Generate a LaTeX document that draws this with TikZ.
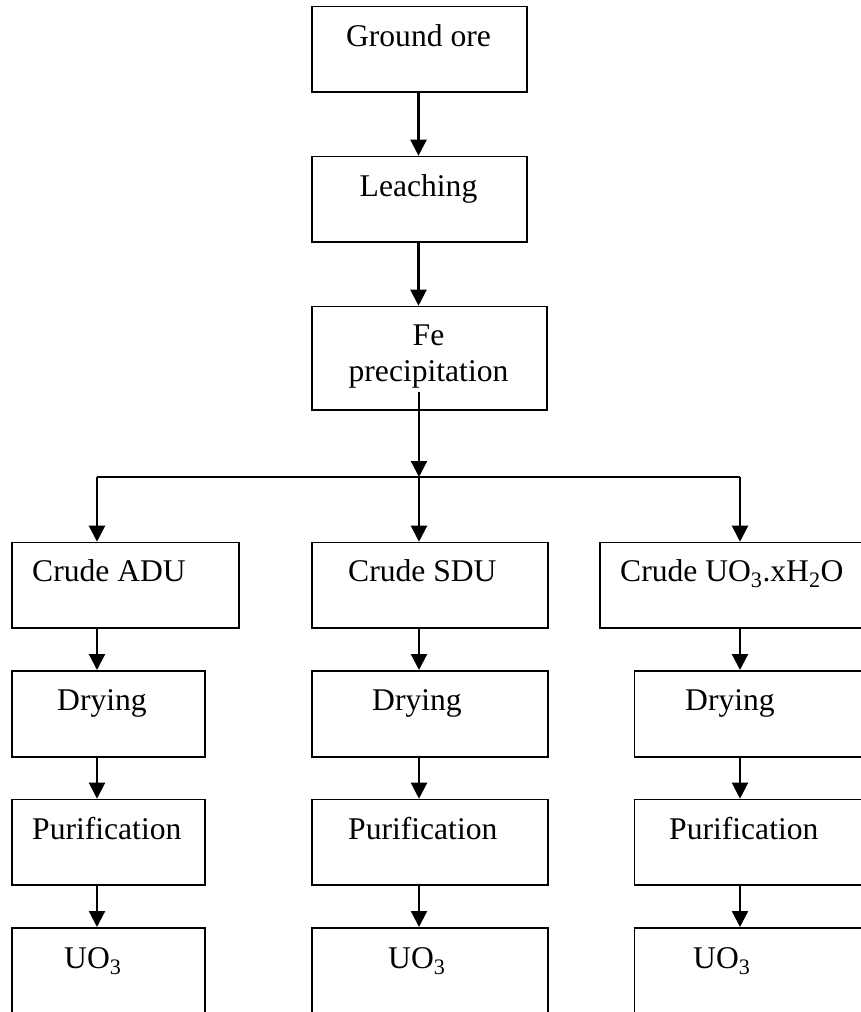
\documentclass[tikz,border=0pt]{standalone}
\usepackage{fontspec}
\setmainfont{Liberation Serif}
\usetikzlibrary{arrows.meta}
\begin{document}
\begin{tikzpicture}[x=1pt,y=-1pt,
  box/.style={draw, line width=1.6pt, inner sep=0pt, anchor=north west},
  lbl/.style={anchor=base west, inner sep=0pt, font=\fontsize{31.6}{36.7}\selectfont},
  clbl/.style={anchor=base, inner sep=0pt, font=\fontsize{31.6}{36.7}\selectfont},
  arr/.style={line width=2.2pt, -{Triangle[length=16pt,width=16pt]}},
  ln/.style={line width=1.7pt}]
\useasboundingbox (0,0) rectangle (861,1012);
\clip (0,0) rectangle (861,1012);
% top column
\node[box, minimum width=215pt, minimum height=85.6pt] (g) at (311,5.7) {};
\node[box, minimum width=215pt, minimum height=85.6pt] (l) at (311,155.7) {};
\node[box, minimum width=235pt, minimum height=103.6pt] (f) at (311,305.7) {};
\node[clbl] (tg) at (418.5,46.7) {Ground ore};
\node[clbl] (tl) at (418.5,196.7) {Leaching};
\node[clbl] (tf1) at (428.5,345) {Fe};
\node[clbl] (tf2) at (428.5,381.7) {precipitation};
% column A
\node[box, minimum width=227pt, minimum height=85.3pt] (crA) at (11,541.7) {};
\node[box, minimum width=193pt, minimum height=86pt] (dA) at (11,670) {};
\node[box, minimum width=193pt, minimum height=85.3pt] (pA) at (11,798.7) {};
\node[box, minimum width=193pt, minimum height=110pt] (uA) at (11,927) {};
% column B
\node[box, minimum width=236pt, minimum height=85.3pt] (crB) at (311,541.7) {};
\node[box, minimum width=236pt, minimum height=86pt] (dB) at (311,670) {};
\node[box, minimum width=236pt, minimum height=85.3pt] (pB) at (311,798.7) {};
\node[box, minimum width=236pt, minimum height=110pt] (uB) at (311,927) {};
% column C
\node[box, minimum width=280pt, minimum height=85.3pt] (crC) at (599,541.7) {};
\node[box, minimum width=250pt, minimum height=86pt] (dC) at (633.5,670) {};
\node[box, minimum width=250pt, minimum height=85.3pt] (pC) at (633.5,798.7) {};
\node[box, minimum width=250pt, minimum height=110pt] (uC) at (633.5,927) {};
% labels
\node[lbl] (tcrA) at (32,581.7) {Crude ADU};
\node[lbl] (tdA) at (57,710) {Drying};
\node[lbl] (tpA) at (32,839) {Purification};
\node[lbl] (tuA) at (64,968) {UO\textsubscript{3}};
\node[lbl] (tcrB) at (348,581.7) {Crude SDU};
\node[lbl] (tdB) at (372,710) {Drying};
\node[lbl] (tpB) at (348,839) {Purification};
\node[lbl] (tuB) at (388,968) {UO\textsubscript{3}};
\node[lbl] (tcrC) at (620,581.7) {Crude UO\textsubscript{3}.xH\textsubscript{2}O};
\node[lbl] (tdC) at (685,710) {Drying};
\node[lbl] (tpC) at (669,839) {Purification};
\node[lbl] (tuC) at (693,968) {UO\textsubscript{3}};
% coordinates
\coordinate (xT) at (418.5,0);
\coordinate (xA) at (97,0);
\coordinate (xB) at (419,0);
\coordinate (xC) at (740,0);
\coordinate (fs) at (419,391.7);
\coordinate (br) at (419,477);
\coordinate (bl) at (97,477);
\coordinate (brr) at (740,477);
% connectors
\draw[arr] (g.south -| xT) -- (l.north -| xT);
\draw[arr] (l.south -| xT) -- (f.north -| xT);
\draw[arr] (fs) -- (br);
\draw[ln] (bl) -- (brr);
\draw[arr] (bl) -- (crA.north -| xA);
\draw[arr] (br) -- (crB.north -| xB);
\draw[arr] (brr) -- (crC.north -| xC);
\draw[arr] (crA.south -| xA) -- (dA.north -| xA);
\draw[arr] (dA.south -| xA) -- (pA.north -| xA);
\draw[arr] (pA.south -| xA) -- (uA.north -| xA);
\draw[arr] (crB.south -| xB) -- (dB.north -| xB);
\draw[arr] (dB.south -| xB) -- (pB.north -| xB);
\draw[arr] (pB.south -| xB) -- (uB.north -| xB);
\draw[arr] (crC.south -| xC) -- (dC.north -| xC);
\draw[arr] (dC.south -| xC) -- (pC.north -| xC);
\draw[arr] (pC.south -| xC) -- (uC.north -| xC);
\end{tikzpicture}
\end{document}
